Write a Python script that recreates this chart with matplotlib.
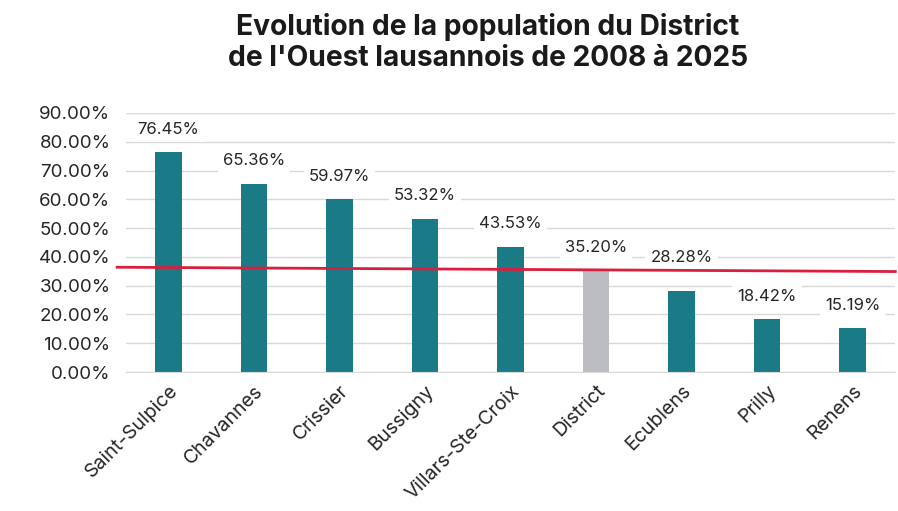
import matplotlib.pyplot as plt
import matplotlib.transforms as mtransforms
import numpy as np
from matplotlib.ticker import PercentFormatter

communes = [
    "Saint-Sulpice", "Chavannes", "Crissier", "Bussigny", "Villars-Ste-Croix",
    "District", "Ecublens", "Prilly", "Renens",
]
growth = [76.45, 65.36, 59.97, 53.32, 43.53, 35.20, 28.28, 18.42, 15.19]
# red reference line, read at its two ends
ref_line = [36.4, 34.9]

teal = "#1a7b86"
grey = "#bcbdc1"
red = "#d81f3d"

plt.rcParams["font.family"] = ["Inter", "DejaVu Sans"]

fig = plt.figure(figsize=(8.98, 5.11), dpi=100)
ax = fig.add_axes([0.140, 0.272, 0.857, 0.507])

x = np.arange(len(communes))
colors = [grey if c == "District" else teal for c in communes]
ax.bar(x, growth, width=0.31, color=colors, zorder=2)

# Ecublens label sits higher to stay clear of the red line
for xi, (name, v) in enumerate(zip(communes, growth)):
    dy = 24 if name == "Ecublens" else 16.5
    ax.annotate(f"{v:.2f}%", (xi, v), xytext=(0, dy), textcoords="offset points",
                ha="center", va="center", fontsize=12, color="#262626",
                bbox=dict(boxstyle="square,pad=0.3", fc="white", ec="none"),
                zorder=3)

ax.plot([-0.6, 8.5], ref_line, color=red, lw=2, zorder=4, clip_on=False)

ax.set_xlim(-0.5, len(communes) - 0.5)
ax.set_ylim(0, 90)
ax.set_yticks(np.arange(0, 91, 10))
ax.yaxis.set_major_formatter(PercentFormatter(decimals=2))
ax.set_xticks(x)
ax.set_xticklabels(communes, rotation=45, ha="right", rotation_mode="anchor")
# nudge rotated labels a little to the right, like the original
shift = mtransforms.ScaledTranslation(5 / 72, 0, fig.dpi_scale_trans)
for lbl in ax.get_xticklabels():
    lbl.set_transform(lbl.get_transform() + shift)

ax.grid(axis="y", color="#d9d9d9", lw=1, zorder=0)
for s in ["top", "right", "left"]:
    ax.spines[s].set_visible(False)
ax.spines["bottom"].set_color("#d9d9d9")
ax.tick_params(axis="both", length=0, colors="#262626")
ax.tick_params(axis="y", pad=11, labelsize=13.5)
ax.tick_params(axis="x", pad=7, labelsize=14)

fig.text(0.543, 0.975, "Evolution de la population du District\nde l'Ouest lausannois de 2008 à 2025",
         ha="center", va="top", fontsize=20.3, fontweight="bold", color="#1a1a1a",
         linespacing=1.2)

fig.savefig("out.png", dpi=100)
